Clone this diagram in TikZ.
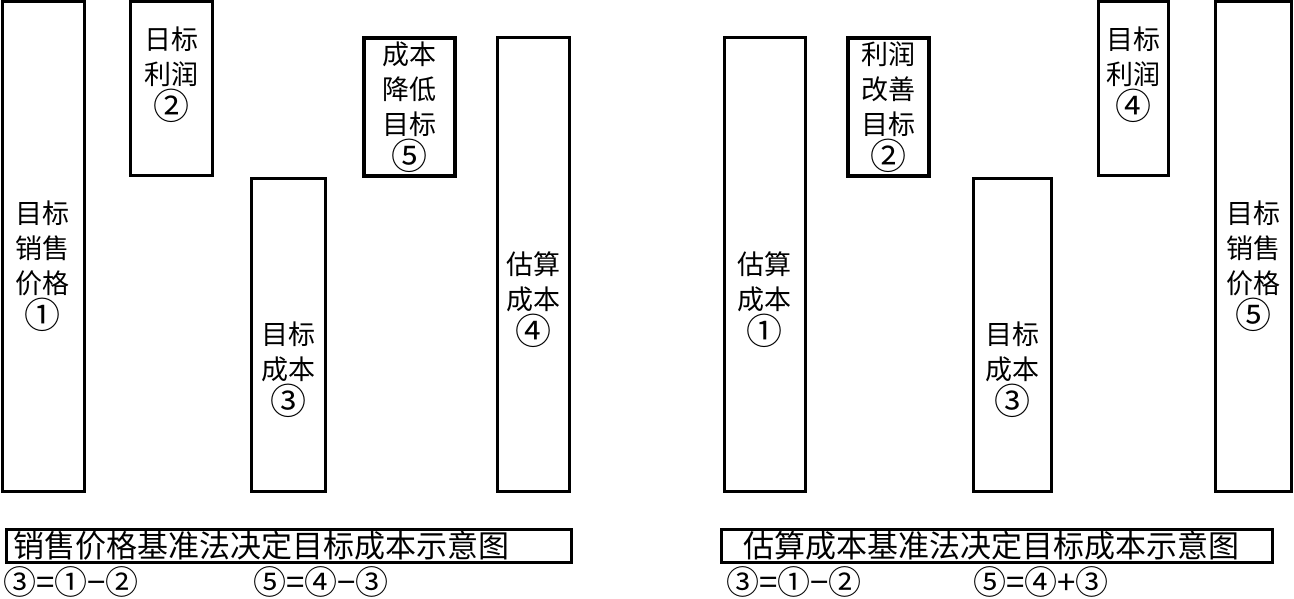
\documentclass[tikz,border=0pt]{standalone}
\usepackage{fontspec}
\setmainfont{Noto Sans CJK SC}
\usetikzlibrary{positioning}

\newcommand{\cnum}[1]{{\fontsize{36}{35}\selectfont #1}}

\begin{document}
\begin{tikzpicture}[
      x=1pt, y=-1pt,
      bar/.style={draw=black, line width=3pt, inner sep=0pt},
      thickbar/.style={bar, line width=4pt},
      lbl/.style={align=center, font=\fontsize{27}{35}\selectfont, inner sep=0pt},
      capbox/.style={draw=black, line width=3pt, minimum height=33pt, inner sep=0pt},
      captext/.style={font=\fontsize{31}{32}\selectfont, inner sep=0pt, anchor=west},
      formula/.style={font=\fontsize{33}{34}\selectfont, inner sep=0pt, anchor=west},
  ]
    \useasboundingbox (0,0) rectangle (1294,599);

    % left: sales price based
    \node[bar, minimum width=82pt, minimum height=489pt,
          label={[lbl, yshift=-20pt]center:{目标\\销售\\价格\\\cnum{①}}}] (lsale) at (43,246.5) {};
    \node[bar, minimum width=82pt, minimum height=174pt,
          label={[lbl, yshift=14pt]center:{日标\\利润\\\cnum{②}}}] (lprofit) at (171,89) {};
    \node[bar, minimum width=74pt, minimum height=312pt,
          label={[lbl, yshift=-35pt]center:{目标\\成本\\\cnum{③}}}] (ltarget) at (288,335) {};
    \node[thickbar, minimum width=91pt, minimum height=138pt,
          label={[lbl]center:{成本\\降低\\目标\\\cnum{⑤}}}] (lcut) at (409.5,107) {};
    \node[bar, minimum width=72pt, minimum height=453pt,
          label={[lbl, yshift=-35pt]center:{估算\\成本\\\cnum{④}}}] (lest) at (533,264.5) {};

    \node[capbox, minimum width=565pt] (lcap) at (288.5,545.5) {};
    \node[captext, right=9pt of lcap.west] (lcaptext) {销售价格基准法决定目标成本示意图};
    \node[formula] (lf1) at (3,582) {③=①−②};
    \node[formula] (lf2) at (253,582) {⑤=④−③};

    % right: estimated cost based
    \node[bar, minimum width=81pt, minimum height=453pt,
          label={[lbl, yshift=-35pt]center:{估算\\成本\\\cnum{①}}}] (rest) at (764.5,264.5) {};
    \node[thickbar, minimum width=81pt, minimum height=138pt,
          label={[lbl]center:{利润\\改善\\目标\\\cnum{②}}}] (rimp) at (888.5,107) {};
    \node[bar, minimum width=78pt, minimum height=312pt,
          label={[lbl, yshift=-35pt]center:{目标\\成本\\\cnum{③}}}] (rtarget) at (1012,335) {};
    \node[bar, minimum width=70pt, minimum height=174pt,
          label={[lbl, yshift=14pt]center:{目标\\利润\\\cnum{④}}}] (rprofit) at (1133,89) {};
    \node[bar, minimum width=76pt, minimum height=489pt,
          label={[lbl, yshift=-20pt]center:{目标\\销售\\价格\\\cnum{⑤}}}] (rsale) at (1253,246.5) {};

    \node[capbox, minimum width=551pt] (rcap) at (996.5,545.5) {};
    \node[captext, right=24pt of rcap.west] (rcaptext) {估算成本基准法决定目标成本示意图};
    \node[formula] (rf1) at (726,582) {③=①−②};
    \node[formula] (rf2) at (973,582) {⑤=④+③};

  \end{tikzpicture}
\end{document}
